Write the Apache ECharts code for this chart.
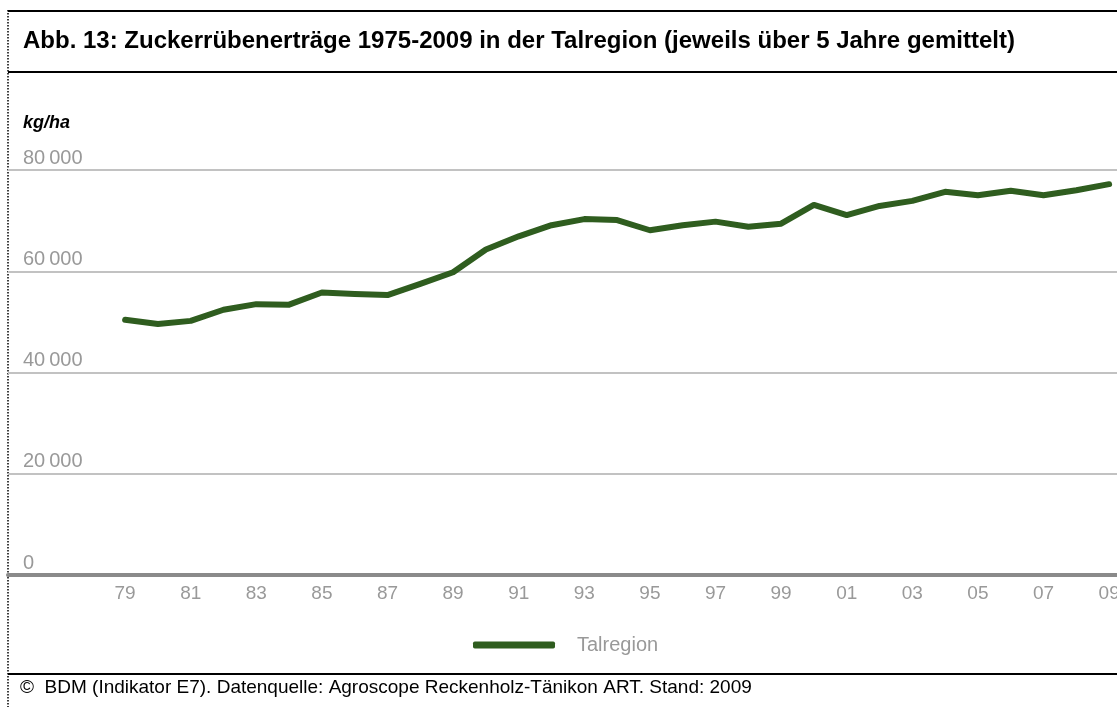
<!DOCTYPE html>
<html>
<head>
<meta charset="utf-8">
<title>Zuckerrübenerträge Talregion</title>
<script src="https://cdn.jsdelivr.net/npm/echarts@6/dist/echarts.min.js"></script>
<style>
  html, body {
    margin: 0;
    padding: 0;
    background-color: #fff;
  }
  #chart {
    width: 1117px;
    height: 707px;
  }
</style>
</head>
<body>
<div id="chart"></div>
<script>
// Jahre (Mittel über 5 Jahre, jeweils am Ende des Zeitraums)
const years = [
  1979, 1980, 1981, 1982, 1983, 1984, 1985, 1986, 1987, 1988,
  1989, 1990, 1991, 1992, 1993, 1994, 1995, 1996, 1997, 1998,
  1999, 2000, 2001, 2002, 2003, 2004, 2005, 2006, 2007, 2008, 2009
];
// Ertrag Talregion in kg/ha
const talregion = [
  50400, 49600, 50200, 52400, 53500, 53400, 55800, 55500, 55300, 57500,
  59800, 64300, 66900, 69100, 70300, 70100, 68100, 69100, 69800, 68800,
  69400, 73100, 71100, 72900, 73900, 75700, 75000, 75900, 75000, 76000, 77200
];
// beschriftete Jahre auf der x-Achse
const yearTicks = [
  1979, 1981, 1983, 1985, 1987, 1989, 1991, 1993,
  1995, 1997, 1999, 2001, 2003, 2005, 2007, 2009
];

const titleText = 'Abb. 13: Zuckerrübenerträge 1975-2009 in der Talregion (jeweils über 5 Jahre gemittelt)';
const footText = '©  BDM (Indikator E7). Datenquelle: Agroscope Reckenholz-Tänikon ART. Stand: 2009';

const font = '"Liberation Sans", Arial, sans-serif';
const green = '#2f5d1f';
const grey = '#999999';

const chart = echarts.init(document.getElementById('chart'), null, { renderer: 'canvas' });

chart.setOption({
  animation: false,
  textStyle: { fontFamily: font },
  title: [
    {
      text: titleText,
      left: 23,
      top: 29,
      padding: 0,
      textStyle: { fontSize: 24, fontWeight: 'bold', color: '#000', fontFamily: font, lineHeight: 24 }
    },
    {
      text: 'kg/ha',
      left: 23,
      top: 114,
      padding: 0,
      textStyle: { fontSize: 18, fontWeight: 'bold', fontStyle: 'italic', color: '#000', fontFamily: font, lineHeight: 18 }
    },
    {
      text: footText,
      left: 20,
      top: 678,
      padding: 0,
      textStyle: { fontSize: 19, fontWeight: 'normal', color: '#000', fontFamily: font, lineHeight: 19 }
    }
  ],
  graphic: [
    // Rahmenlinien
    { type: 'line', shape: { x1: 8, y1: 11, x2: 1117, y2: 11 }, style: { stroke: '#000', lineWidth: 2 } },
    { type: 'line', shape: { x1: 8, y1: 72, x2: 1117, y2: 72 }, style: { stroke: '#000', lineWidth: 2 } },
    { type: 'line', shape: { x1: 8, y1: 674, x2: 1117, y2: 674 }, style: { stroke: '#000', lineWidth: 2 } },
    { type: 'line', shape: { x1: 8, y1: 10, x2: 8, y2: 707 }, style: { stroke: '#000', lineWidth: 1.5, lineDash: [1.5, 1.5] } }
  ],
  legend: {
    left: 473,
    top: 635,
    padding: 0,
    itemWidth: 82,
    itemHeight: 7,
    icon: 'roundRect',
    textStyle: { fontSize: 20, color: grey, fontFamily: font, padding: [0, 0, 0, 17] },
    data: ['Talregion']
  },
  grid: {
    left: 8,
    right: 0,
    top: 170,
    bottom: 132,
    containLabel: false,
    outerBoundsMode: 'none'
  },
  xAxis: {
    type: 'value',
    min: 1975.43,
    max: 2009.24,
    axisLine: { show: true, onZero: false, lineStyle: { color: '#8a8a8a', width: 4 } },
    axisTick: { show: false },
    splitLine: { show: false },
    axisLabel: {
      customValues: yearTicks,
      margin: 9,
      fontSize: 19,
      color: grey,
      fontFamily: font,
      formatter: (v) => String(v).slice(2)
    }
  },
  yAxis: {
    type: 'value',
    min: 0,
    max: 80000,
    interval: 20000,
    axisLine: { show: false },
    axisTick: { show: false },
    splitLine: { show: true, lineStyle: { color: '#c2c2c2', width: 2 } },
    axisLabel: {
      inside: true,
      margin: 15,
      fontSize: 20,
      color: grey,
      fontFamily: font,
      verticalAlign: 'bottom',
      padding: [0, 0, 2, 0],
      formatter: (v) => (v === 0 ? '0' : String(v / 1000) + '\u2009000')
    }
  },
  series: [
    {
      name: 'Talregion',
      type: 'line',
      symbol: 'none',
      data: years.map((y, i) => [y, talregion[i]]),
      lineStyle: { color: green, width: 6, cap: 'round', join: 'round' },
      itemStyle: { color: green }
    }
  ]
});
</script>
</body>
</html>
